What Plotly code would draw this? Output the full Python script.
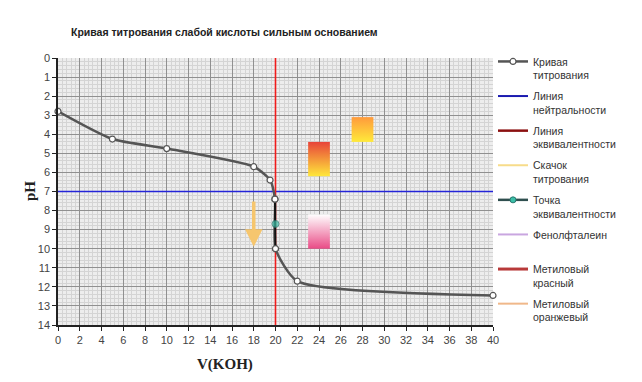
import plotly.graph_objects as go

# ---- data ----
v_koh = [0, 5, 10, 18, 19.5, 19.95, 20, 22, 40]
ph_curve = [2.8, 4.25, 4.75, 5.7, 6.4, 7.4, 10.0, 11.7, 12.45]

eq_v = [19.95, 20, 20]
eq_ph = [7.4, 8.7, 10.0]

neutral_ph = 7
equiv_v = 20
x_range = [0, 40]
y_range = [0, 14]

jump_v = 18
jump_ph = [7.45, 9.9]

# indicator colour-change ranges
mo_v = [27, 29]; mo_ph = [3.1, 4.4]
mr_v = [23, 25]; mr_ph = [4.4, 6.2]
pp_v = [23, 25]; pp_ph = [8.2, 10.0]

x_ticks = list(range(0, 41, 2))
y_ticks = list(range(0, 15))

fig = go.Figure()

def box(vx, ph, c_top, c_bot):
    fig.add_trace(go.Scatter(
        x=[vx[0], vx[1], vx[1], vx[0], vx[0]],
        y=[ph[0], ph[0], ph[1], ph[1], ph[0]],
        mode="lines", line=dict(width=0), fill="toself",
        fillgradient=dict(type="vertical", start=ph[0], stop=ph[1],
                          colorscale=[[0, c_top], [1, c_bot]]),
        showlegend=False, hoverinfo="skip"))

box(mr_v, mr_ph, "#e8443a", "#ffe83a")
box(mo_v, mo_ph, "#ff9a3c", "#ffea3a")
box(pp_v, pp_ph, "#ffffff", "#e94b86")

# neutral line
fig.add_trace(go.Scatter(x=x_range, y=[neutral_ph, neutral_ph], mode="lines",
                         line=dict(color="#2424d8", width=1.5),
                         showlegend=False, hoverinfo="skip"))
# equivalence line
fig.add_trace(go.Scatter(x=[equiv_v, equiv_v], y=y_range, mode="lines",
                         line=dict(color="#f01c1c", width=1.6),
                         showlegend=False, hoverinfo="skip"))

# titration curve
fig.add_trace(go.Scatter(x=v_koh, y=ph_curve, mode="lines+markers", cliponaxis=False,
                         line=dict(color="#555555", width=2.5, shape="spline", smoothing=0.6),
                         marker=dict(size=6, color="white", line=dict(color="#555555", width=1.2)),
                         name="Кривая<br>титрования", legendgroup="a"))

# equivalence point segment
fig.add_trace(go.Scatter(x=eq_v, y=eq_ph, mode="lines+markers",
                         line=dict(color="#111111", width=2),
                         marker=dict(size=[0, 7, 0], color="#3bbfa8",
                                     line=dict(color="#2a7a70", width=1)),
                         showlegend=False, hoverinfo="skip"))
fig.add_trace(go.Scatter(x=[eq_v[0], eq_v[2]], y=[eq_ph[0], eq_ph[2]], mode="markers",
                         marker=dict(size=6, color="white", line=dict(color="#555555", width=1.2)),
                         showlegend=False, hoverinfo="skip"))

# legend-only entries
def leg(name, color, group, width=2, marker=None):
    kw = dict(x=[None], y=[None], name=name, legendgroup=group,
              line=dict(color=color, width=width))
    if marker:
        kw["mode"] = "lines+markers"
        kw["marker"] = marker
    else:
        kw["mode"] = "lines"
    fig.add_trace(go.Scatter(**kw))

leg("Линия<br>нейтральности", "#1a1ab0", "b")
leg("Линия<br>эквивалентности", "#8b1010", "c", width=2.5)
leg("Скачок<br>титрования", "#f7dc8a", "d")
leg("Точка<br>эквивалентности", "#2f4f4f", "e", width=2.5,
    marker=dict(size=6, color="#3bbfa8", line=dict(color="#2a7a70", width=1)))
leg("Фенолфталеин<br> ", "#c9a6e0", "f")
leg("Метиловый<br>красный", "#b83a3a", "g", width=3)
leg("Метиловый<br>оранжевый", "#f0b88a", "h")

# titration jump arrow
fig.add_annotation(x=jump_v, y=jump_ph[1], ax=jump_v, ay=jump_ph[0],
                   xref="x", yref="y", axref="x", ayref="y",
                   showarrow=True, arrowhead=2, arrowsize=1, arrowwidth=3.5,
                   arrowcolor="#f6c66e", text="")

fig.update_layout(
    width=642, height=382,
    margin=dict(l=50, r=157, t=50, b=65),
    paper_bgcolor="white", plot_bgcolor="#ededed",
    font=dict(family="Liberation Sans, Arial", size=11, color="#333"),
    showlegend=True,
    legend=dict(x=1.0, xanchor="left", y=1.037, yanchor="top",
                font=dict(size=10.5, color="#333"), valign="top",
                tracegroupgap=4.3, maxheight=360, bgcolor="rgba(0,0,0,0)"),
)
fig.update_xaxes(range=x_range, tickvals=x_ticks, showgrid=True, gridcolor="#909090", gridwidth=1,
                 minor=dict(dtick=0.4, showgrid=True, gridcolor="#d4d4d4", gridwidth=1),
                 showline=True, linecolor="#222", linewidth=1.5, ticks="outside", ticklen=4,
                 tickcolor="#222", zeroline=False, tickfont=dict(size=11, color="#444"))
fig.update_yaxes(range=[y_range[1], y_range[0]], tickvals=y_ticks, showgrid=True, gridcolor="#909090",
                 minor=dict(dtick=0.2, showgrid=True, gridcolor="#d4d4d4", gridwidth=1),
                 showline=True, linecolor="#222", linewidth=1.5, ticks="outside", ticklen=4,
                 tickcolor="#222", zeroline=False, tickfont=dict(size=11, color="#444"))

fig.add_annotation(text="<b>Кривая титрования слабой кислоты сильным основанием</b>",
                   xref="paper", yref="paper", x=(216 - 50) / 435, y=1 + (50 - 24) / 267,
                   showarrow=False, xanchor="center", yanchor="middle",
                   font=dict(family="Liberation Sans", size=10.5, color="#222"))
fig.add_annotation(text="<b>V(KOH)</b>", xref="paper", yref="paper",
                   x=(217 - 50) / 435, y=-(356 - 317) / 267, showarrow=False,
                   xanchor="center", yanchor="middle",
                   font=dict(family="Liberation Serif, Times New Roman", size=15, color="#222"))
fig.add_annotation(text="<b>pH</b>", xref="paper", yref="paper",
                   x=-(50 - 22) / 435, y=1 - (183 - 50) / 267, showarrow=False,
                   xanchor="center", yanchor="middle", textangle=-90,
                   font=dict(family="Liberation Serif, Times New Roman", size=15, color="#222"))

fig.write_html("out.html")
